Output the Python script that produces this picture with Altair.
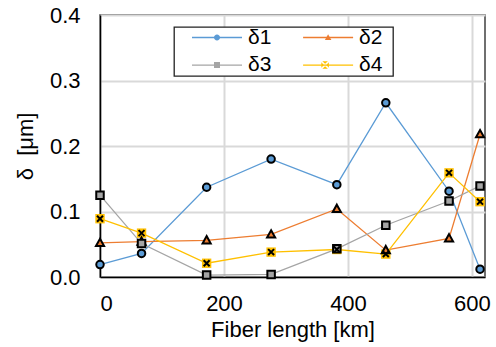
import altair as alt
import pandas as pd

# ---- data ----
fiber_km = [0, 67, 172, 276, 382, 461, 563, 613]
delta1 = [0.019, 0.036, 0.137, 0.180, 0.141, 0.266, 0.131, 0.012]
delta2 = [0.052, 0.054, 0.056, 0.065, 0.104, 0.041, 0.059, 0.218]
delta3 = [0.125, 0.051, 0.003, 0.004, 0.043, 0.079, 0.116, 0.139]
delta4 = [0.089, 0.067, 0.021, 0.038, 0.042, 0.035, 0.159, 0.115]
series_names = ["δ1", "δ2", "δ3", "δ4"]
series_values = [delta1, delta2, delta3, delta4]
x_ticks = [0, 200, 400, 600]
y_ticks = [0.0, 0.1, 0.2, 0.3, 0.4]

# ---- styles ----
series_colors = ["#5B9BD5", "#ED7D31", "#A5A5A5", "#FFC000"]
FONT = "Liberation Sans"
CIRCLE = "M-0.12,0A0.12,0.12,0,1,1,0.12,0A0.12,0.12,0,1,1,-0.12,0Z"
TRIANGLE = "M0,-0.135L0.13,0.1L-0.13,0.1Z"
SQUARE = "M-0.12,-0.12H0.12V0.12H-0.12Z"
XMARK = "M-0.095,-0.095L0.095,0.095M0.095,-0.095L-0.095,0.095"
BGSQ = "M-0.15,-0.15H0.15V0.15H-0.15Z"
# yellow wedges between the arms of the x (legend symbol only)
WEDGES = ("M-0.11,-0.15L0.11,-0.15L0,-0.05Z"
          "M0.15,-0.11L0.15,0.11L0.05,0Z"
          "M0.11,0.15L-0.11,0.15L0,0.05Z"
          "M-0.15,0.11L-0.15,-0.11L-0.05,0Z")
LINE = "M-1,0H1"
MARK_SIZE = 3906

rows = []
for name, vals in zip(series_names, series_values):
    for km, v in zip(fiber_km, vals):
        rows.append({"km": km, "delta": v, "series": name, "mk": name, "bg": name})
df = pd.DataFrame(rows)


def leg(**kw):
    return alt.Legend(
        title=None, orient="none", legendX=74, legendY=12, columns=2,
        direction="horizontal",
        padding=0, rowPadding=5.6, columnPadding=13.1, clipHeight=21,
        symbolSize=2500, symbolOffset=17, labelOffset=5,
        labelFont=FONT, labelFontSize=21, labelColor="black", **kw)


x_enc = alt.X("km:Q",
              scale=alt.Scale(domain=[0, 621], nice=False, zero=False),
              axis=alt.Axis(values=x_ticks, title="Fiber length [km]",
                            labelPadding=16, titlePadding=5))
y_enc = alt.Y("delta:Q",
              scale=alt.Scale(domain=[0, 0.4], nice=False),
              axis=alt.Axis(values=y_ticks, format=".1f",
                            title="δ\u00a0\u00a0[μm]",
                            labelPadding=20, titlePadding=12))

base = alt.Chart(df)

# line legend (box border + white fill, hidden labels sized like the visible ones)
lines = base.mark_line(strokeWidth=1.3).encode(
    x=x_enc, y=y_enc,
    stroke=alt.Stroke("series:N",
                      scale=alt.Scale(range=series_colors),
                      legend=leg(symbolType=LINE, symbolStrokeWidth=1.3,
                                 strokeColor="#222222", fillColor="white",
                                 labelOpacity=0, zindex=1,
                                 labelExpr="datum.label + ((datum.label == 'δ2' || datum.label == 'δ4') ? 'x' : '')")),
)

# yellow backgrounds of the δ4 markers (explicit domain)
bg = base.transform_filter(alt.datum.bg == "δ4").mark_point(
    filled=True, size=MARK_SIZE, shape=BGSQ, strokeWidth=0, opacity=1
).encode(
    x=x_enc, y=y_enc,
    color=alt.Color("bg:N",
                    scale=alt.Scale(domain=series_names,
                                    range=["transparent", "transparent", "transparent", "#FFC000"]),
                    legend=leg(symbolType=WEDGES, symbolStrokeColor="transparent",
                               symbolStrokeWidth=0, labelOpacity=0, zindex=2)),
)

# markers (domain from field "mk"), this legend shows the labels
legB = leg(symbolStrokeColor="black", symbolStrokeWidth=2, zindex=3)
markers = base.mark_point(
    filled=True, size=MARK_SIZE, stroke="black", strokeWidth=2, opacity=1
).encode(
    x=x_enc, y=y_enc,
    fill=alt.Fill("mk:N", scale=alt.Scale(range=series_colors), legend=legB),
    shape=alt.Shape("mk:N", scale=alt.Scale(range=[CIRCLE, TRIANGLE, SQUARE, XMARK]), legend=legB),
)

chart = alt.layer(lines, bg, markers).properties(
    width=385, height=262,
    autosize=alt.AutoSizeParams(type="none"),
    padding={"left": 100, "top": 15, "right": 11, "bottom": 70},
).configure_view(
    stroke="#404040", strokeWidth=1.5
).configure_axis(
    labelFont=FONT, labelFontSize=22, labelColor="black",
    titleFont=FONT, titleFontSize=22, titleFontWeight="normal", titleColor="black",
    grid=True, gridColor="#D9D9D9", gridWidth=2,
    domainColor="black", domainWidth=1.5, ticks=False,
).configure_legend(
    strokeWidth=1.3
)

chart.save("out.html", embed_options={"renderer": "svg", "actions": False})
